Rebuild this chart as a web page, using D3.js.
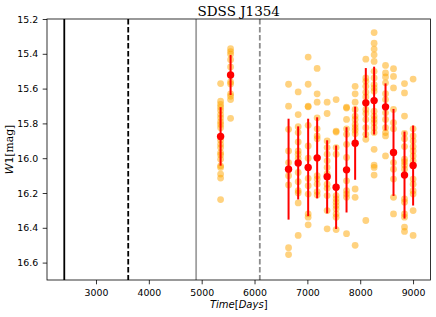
<!DOCTYPE html>
<html>
<head>
<meta charset="utf-8">
<script src="https://cdn.jsdelivr.net/npm/d3@7"></script>
<style>
  body { margin: 0; background: #fff; }
  svg { display: block; }
  .tick text { font-family: "DejaVu Sans", sans-serif; font-size: 9.4px; fill: #000; }
  .tick line { stroke: #000; stroke-width: 0.8; }
</style>
</head>
<body>
<div id="chart"></div>
<script>
// WISE epochs (days) with mean W1 and error
const epochDays = [5358, 5547, 6644, 6826, 7015, 7185, 7374, 7544, 7741, 7904, 8106, 8263, 8479, 8630, 8838, 9001];
const meanMag = [15.875, 15.522, 16.063, 16.027, 16.053, 15.998, 16.107, 16.167, 16.067, 15.914, 15.682, 15.669, 15.705, 15.967, 16.097, 16.042];
const magErr = [0.168, 0.115, 0.29, 0.21, 0.28, 0.233, 0.21, 0.24, 0.245, 0.21, 0.2, 0.195, 0.135, 0.25, 0.25, 0.23];

// single exposures per epoch
const exposures = [
  [15.571, 15.672, 15.691, 15.707, 15.726, 15.749, 15.768, 15.79, 15.806, 15.825, 15.897, 15.92, 15.939, 15.968, 15.981, 16.006, 16.044, 16.053, 16.091, 16.114, 16.238],
  [15.371, 15.387, 15.402, 15.434, 15.476, 15.562, 15.573, 15.63, 15.644, 15.663, 15.771],
  [15.575, 15.701, 15.834, 15.958, 16.025, 16.101, 16.154, 16.514, 16.554],
  [15.619, 15.749, 15.819, 15.853, 15.907, 15.958, 15.977, 16.002, 16.082, 16.135, 16.187, 16.2, 16.257, 16.444],
  [15.419, 15.575, 15.701, 15.705, 15.811, 15.93, 16.0, 16.116, 16.158, 16.206, 16.32, 16.339, 16.383],
  [15.484, 15.63, 15.678, 15.768, 15.831, 15.872, 15.888, 16.0, 16.101, 16.12, 16.149, 16.192, 16.211],
  [15.678, 15.743, 15.901, 15.939, 15.977, 16.015, 16.053, 16.09, 16.149, 16.173, 16.215, 16.301, 16.406],
  [15.663, 15.844, 15.85, 15.939, 15.977, 16.215, 16.234, 16.253, 16.272, 16.291, 16.32, 16.339, 16.41],
  [15.707, 15.712, 15.777, 15.831, 15.863, 15.92, 15.996, 16.13, 16.187, 16.206, 16.225, 16.434],
  [15.587, 15.63, 15.678, 15.72, 15.758, 15.777, 15.806, 15.825, 15.84, 15.86, 16.177, 16.225, 16.501],
  [15.431, 15.539, 15.558, 15.587, 15.621, 15.648, 15.72, 15.743, 15.777, 15.825, 15.863, 15.891, 16.358],
  [15.278, 15.339, 15.373, 15.406, 15.444, 15.501, 15.539, 15.577, 15.596, 15.615, 15.73, 15.758, 15.777, 15.796, 15.825, 15.853, 15.949, 16.04, 16.053, 16.097],
  [15.467, 15.51, 15.533, 15.567, 15.629, 15.663, 15.739, 15.777, 15.825, 15.853, 15.872, 15.987],
  [15.486, 15.53, 15.596, 15.72, 15.796, 15.831, 16.025, 16.063, 16.12, 16.225, 16.32],
  [15.571, 15.625, 15.758, 15.857, 15.888, 15.933, 16.006, 16.021, 16.04, 16.063, 16.234, 16.253, 16.32, 16.339, 16.396, 16.421],
  [15.545, 15.831, 15.872, 15.901, 15.933, 15.958, 15.987, 16.015, 16.12, 16.149, 16.187, 16.206, 16.301, 16.444]
];

// reference lines (days)
const markerDays = [2400, 3610, 4895, 6100];
const markerStyle = [
  { color: '#000', dash: null },
  { color: '#000', dash: '5.5,2.5' },
  { color: '#a0a0a0', dash: null },
  { color: '#8c8c8c', dash: '5.5,2.5' }
];

const xTicks = [3000, 4000, 5000, 6000, 7000, 8000, 9000];
const yTicks = [15.2, 15.4, 15.6, 15.8, 16.0, 16.2, 16.4, 16.6];

const width = 436;
const height = 317;
const margin = { top: 19, right: 5.5, bottom: 37, left: 47 };
const usableArea = {
  top: margin.top,
  bottom: height - margin.bottom,
  left: margin.left,
  right: width - margin.right
};

const svg = d3.select('#chart')
  .append('svg')
  .attr('width', width)
  .attr('height', height);

const xScale = d3.scaleLinear().domain([2073, 9330]).range([usableArea.left, usableArea.right]);
const yScale = d3.scaleLinear().domain([15.2, 16.7]).range([usableArea.top, usableArea.bottom]);

// vertical reference lines
svg.append('g')
  .selectAll('line')
  .data(markerDays)
  .join('line')
  .attr('x1', d => xScale(d))
  .attr('x2', d => xScale(d))
  .attr('y1', usableArea.top)
  .attr('y2', usableArea.bottom)
  .attr('stroke', (d, i) => markerStyle[i].color)
  .attr('stroke-width', 1.8)
  .attr('stroke-dasharray', (d, i) => markerStyle[i].dash);

// single exposures
const points = exposures.flatMap((mags, i) => mags.map(m => ({ day: epochDays[i], mag: m })));
svg.append('g')
  .selectAll('circle')
  .data(points)
  .join('circle')
  .attr('cx', d => xScale(d.day))
  .attr('cy', d => yScale(d.mag))
  .attr('r', 3.4)
  .attr('fill', 'orange')
  .attr('fill-opacity', 0.5);

// means with error bars
const means = epochDays.map((d, i) => ({ day: d, mag: meanMag[i], err: magErr[i] }));
const meanG = svg.append('g');
meanG.selectAll('line')
  .data(means)
  .join('line')
  .attr('x1', d => xScale(d.day))
  .attr('x2', d => xScale(d.day))
  .attr('y1', d => yScale(d.mag - d.err))
  .attr('y2', d => yScale(d.mag + d.err))
  .attr('stroke', 'red')
  .attr('stroke-width', 2);
meanG.selectAll('circle')
  .data(means)
  .join('circle')
  .attr('cx', d => xScale(d.day))
  .attr('cy', d => yScale(d.mag))
  .attr('r', 3.7)
  .attr('fill', 'red');

// axes
const xAxis = svg.append('g')
  .attr('transform', `translate(0, ${usableArea.bottom})`)
  .call(d3.axisBottom(xScale).tickValues(xTicks).tickFormat(d3.format('d')).tickSize(4.3).tickPadding(5));
xAxis.select('.domain').remove();

const yAxis = svg.append('g')
  .attr('transform', `translate(${usableArea.left}, 0)`)
  .call(d3.axisLeft(yScale).tickValues(yTicks).tickFormat(d3.format('.1f')).tickSize(4.3).tickPadding(4.5));
yAxis.select('.domain').remove();

// frame
svg.append('rect')
  .attr('x', usableArea.left)
  .attr('y', usableArea.top)
  .attr('width', usableArea.right - usableArea.left)
  .attr('height', usableArea.bottom - usableArea.top)
  .attr('fill', 'none')
  .attr('stroke', '#000')
  .attr('stroke-width', 0.8);

// title and labels
svg.append('text')
  .attr('x', (usableArea.left + usableArea.right) / 2)
  .attr('y', 15.5)
  .attr('text-anchor', 'middle')
  .style('font-family', '"DejaVu Serif", serif')
  .style('font-size', '13.5px')
  .text('SDSS J1354');

const xLabel = svg.append('text')
  .attr('x', (usableArea.left + usableArea.right) / 2)
  .attr('y', 308)
  .attr('text-anchor', 'middle')
  .style('font-family', '"DejaVu Sans", sans-serif')
  .style('font-size', '10px');
xLabel.append('tspan').style('font-style', 'italic').text('Time');
xLabel.append('tspan').text('[');
xLabel.append('tspan').style('font-style', 'italic').text('Days');
xLabel.append('tspan').text(']');

const yLabel = svg.append('text')
  .attr('transform', `translate(13, ${(usableArea.top + usableArea.bottom) / 2}) rotate(-90)`)
  .attr('text-anchor', 'middle')
  .style('font-size', '10.8px');
yLabel.append('tspan').style('font-family', '"DejaVu Sans", sans-serif').style('font-style', 'italic').text('W');
yLabel.append('tspan').style('font-family', '"DejaVu Sans", sans-serif').text('1');
yLabel.append('tspan').style('font-family', '"DejaVu Serif", serif').text('[mag]');
</script>
</body>
</html>
